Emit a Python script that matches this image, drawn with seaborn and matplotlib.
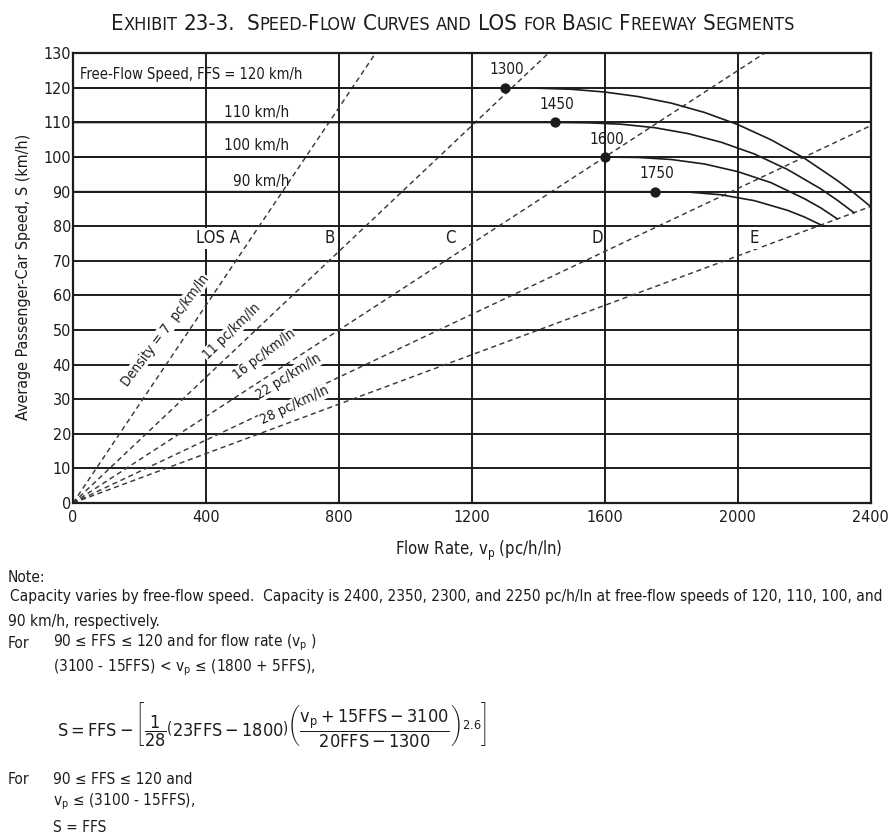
import pandas as pd
import matplotlib
matplotlib.use('Agg')
import matplotlib.pyplot as plt
import seaborn as sns

# speed-flow curves (flow pc/h/ln, speed km/h)
FLOW_120 = [0, 1300, 1400, 1500, 1600, 1700, 1800, 1900, 2000, 2100, 2200, 2300, 2350, 2400]
SPEED_120 = [120, 120, 119.9, 119.6, 118.8, 117.5, 115.6, 112.9, 109.4, 105.0, 99.7, 93.2, 89.6, 85.7]
FLOW_110 = [0, 1450, 1550, 1650, 1750, 1850, 1950, 2050, 2150, 2250, 2300, 2350]
SPEED_110 = [110, 110, 109.9, 109.5, 108.5, 106.8, 104.3, 100.9, 96.4, 90.8, 87.5, 83.9]
FLOW_100 = [0, 1600, 1700, 1800, 1900, 2000, 2100, 2200, 2250, 2300]
SPEED_100 = [100, 100, 99.9, 99.3, 98.0, 95.8, 92.6, 88.0, 85.3, 82.1]
FLOW_90 = [0, 1750, 1850, 1950, 2050, 2150, 2200, 2250]
SPEED_90 = [90, 90, 89.9, 89.1, 87.4, 84.6, 82.7, 80.4]

FFS = [120, 110, 100, 90]
BREAK_FLOW = [1300, 1450, 1600, 1750]
DENSITY = [7, 11, 16, 22, 28]
DENSITY_LABELS = ["Density = 7  pc/km/ln", "11 pc/km/ln", "16 pc/km/ln", "22 pc/km/ln", "28 pc/km/ln"]
LOS_LABELS = ["LOS A", "B", "C", "D", "E"]
X_TICKS = [0, 400, 800, 1200, 1600, 2000, 2400]
Y_TICKS = list(range(0, 131, 10))

W, H = 890, 836
INK = '#1c1c1c'

sns.set_style("white")
plt.rcParams['font.family'] = ['DejaVu Sans']
plt.rcParams['font.stretch'] = 'condensed'
plt.rcParams['mathtext.fontset'] = 'custom'
plt.rcParams['mathtext.rm'] = 'DejaVu Sans:stretch=condensed'
plt.rcParams['mathtext.it'] = 'DejaVu Sans:stretch=condensed'
plt.rcParams['mathtext.sf'] = 'DejaVu Sans:stretch=condensed'
plt.rcParams['mathtext.bf'] = 'DejaVu Sans:stretch=condensed:weight=bold'
plt.rcParams['text.color'] = INK

curves = pd.concat([
    pd.DataFrame({'flow': f, 'speed': s, 'ffs': v})
    for f, s, v in [(FLOW_120, SPEED_120, 120), (FLOW_110, SPEED_110, 110),
                    (FLOW_100, SPEED_100, 100), (FLOW_90, SPEED_90, 90)]
])

fig = plt.figure(figsize=(W / 100, H / 100), dpi=100)
ax = fig.add_axes([73 / W, 1 - 503 / H, 797.7 / W, 449.7 / H])
renderer = fig.canvas.get_renderer()

# density (LOS boundary) lines
for k in DENSITY:
    ax.axline((0, 0), slope=1 / k, color='#3a3a3a', lw=1.05,
              linestyle=(0, (3.5, 2.5)), zorder=2)

sns.lineplot(data=curves, x='flow', y='speed', units='ffs', estimator=None,
             sort=False, color=INK, lw=1.2, ax=ax, zorder=3)
sns.scatterplot(x=BREAK_FLOW, y=FFS, s=55, color=INK, edgecolor=INK,
                linewidth=0, zorder=5, ax=ax)

ax.set_xlim(0, 2400)
ax.set_ylim(0, 130)
ax.set_xticks(X_TICKS)
ax.set_yticks(Y_TICKS)
ax.grid(True, color=INK, lw=1.4)
ax.set_axisbelow(True)
for sp in ax.spines.values():
    sp.set_color(INK)
    sp.set_linewidth(1.6)
ax.tick_params(axis='both', length=0, labelsize=11.5, colors=INK)
ax.tick_params(axis='y', pad=1.5)
ax.tick_params(axis='x', pad=5)
ax.set_xlabel('')
ax.set_ylabel('')

# in-plot labels
ax.text(20, 123.8, "Free-Flow Speed, FFS = 120 km/h", fontsize=10.5, va='center', ha='left')
for v, yy in zip(FFS[1:], [113, 103.3, 93]):
    ax.text(650, yy, f"{v} km/h", fontsize=11, va='center', ha='right')
for f, v in zip(BREAK_FLOW, FFS):
    ax.text(f + 5, v + 5.2, f"{f}", fontsize=11, va='center', ha='center')

white = dict(facecolor='white', edgecolor='none', pad=1.0)
for lab, xx in zip(LOS_LABELS, [435, 773, 1134, 1576, 2050]):
    ax.text(xx, 76.5, lab, fontsize=12, va='center', ha='center', bbox=white, zorder=4)

dens_pos = [(277, 50, 53), (476, 49.5, 44), (576, 43, 37), (650, 36.6, 32), (666, 28.2, 25)]
for lab, (xx, yy, rot) in zip(DENSITY_LABELS, dens_pos):
    ax.text(xx, yy, lab, fontsize=10, rotation=rot, rotation_mode='anchor',
            va='center', ha='center', bbox=dict(facecolor='white', edgecolor='none', pad=0.3),
            zorder=4)

# axis titles
fig.text(479 / W, 1 - 551 / H, "Flow Rate, v$_\\mathrm{p}$ (pc/h/ln)", fontsize=12,
         ha='center', va='center')
fig.text(24 / W, 1 - 277 / H, "Average Passenger-Car Speed, S (km/h)", fontsize=11.5,
         ha='center', va='center', rotation=90)

# small-caps title, fitted to the width it has in the exhibit
BIG, SMALL = 16, 13
title_words = [
    [("E", BIG), ("XHIBIT", SMALL)],
    [("23-3.", BIG)],
    [],
    [("S", BIG), ("PEED-", SMALL), ("F", BIG), ("LOW", SMALL)],
    [("C", BIG), ("URVES", SMALL)],
    [("AND", SMALL)],
    [("LOS", BIG)],
    [("FOR", SMALL)],
    [("B", BIG), ("ASIC", SMALL)],
    [("F", BIG), ("REEWAY", SMALL)],
    [("S", BIG), ("EGMENTS", SMALL)],
]


def lay_title(scale):
    placed, x = [], 0.0
    for word in title_words:
        for txt, size in word:
            t = fig.text(0, 1 - 30 / H, txt, fontsize=size * scale, va='baseline', ha='left')
            placed.append((t, x))
            x += t.get_window_extent(renderer).width
        x += 6.0 * scale
    return placed, x - 6.0 * scale


placed, total = lay_title(1.0)
for t, _ in placed:
    t.remove()
placed, total = lay_title(683 / total)
x0 = 453 - total / 2
for t, xx in placed:
    t.set_x((x0 + xx) / W)

# notes: the long capacity line sets the size for all note lines
CAPACITY = ("Capacity varies by free-flow speed.  Capacity is 2400, 2350, 2300, and 2250 pc/h/ln at "
            "free-flow speeds of 120, 110, 100, and")
probe = fig.text(0, 0, CAPACITY, fontsize=11.5)
NOTE = min(11.5, 11.5 * 874 / probe.get_window_extent(renderer).width)
probe.remove()


def note(xp, yp, s, size=None):
    fig.text(xp / W, 1 - yp / H, s, fontsize=size or NOTE, va='center', ha='left')


note(8, 577, "Note:")
note(10, 596, CAPACITY)
note(8, 621.7, "90 km/h, respectively.")
note(8, 643, "For")
note(53, 643, "90 \u2264 FFS \u2264 120 and for flow rate (v$_\\mathrm{p}$ )")
note(53, 668, "(3100 - 15FFS) < v$_\\mathrm{p}$ \u2264 (1800 + 5FFS),")
note(57, 725, r"$\mathrm{S = FFS} - \left[\dfrac{1}{28}\left(23\mathrm{FFS} - 1800\right)"
              r"\left(\dfrac{\mathrm{v_p} + 15\mathrm{FFS} - 3100}{20\mathrm{FFS} - 1300}\right)^{2.6}\right]$",
     size=13)
note(8, 780, "For")
note(53, 780, "90 \u2264 FFS \u2264 120 and")
note(53, 801.7, "v$_\\mathrm{p}$ \u2264 (3100 - 15FFS),")
note(53, 828, "S = FFS")

fig.savefig("out.png", dpi=100)
